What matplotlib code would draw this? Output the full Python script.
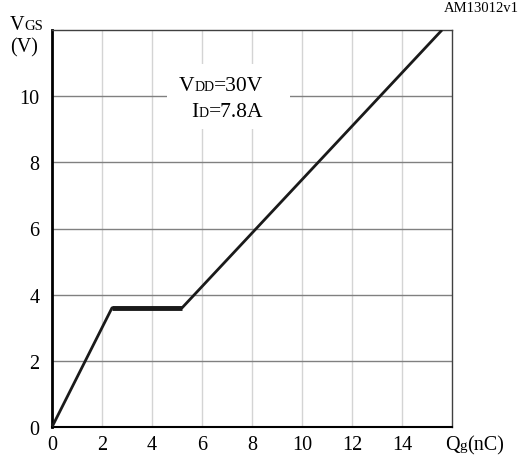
import matplotlib.pyplot as plt

plt.rcParams["font.family"] = ["Liberation Serif", "DejaVu Serif"]

# gate charge curve
qg = [0, 2.4, 5.2, 15.6]
vgs = [0, 3.6, 3.6, 12.0]
xticks = [0, 2, 4, 6, 8, 10, 12, 14]
yticks = [0, 2, 4, 6, 8, 10]

W, H = 521, 460
fig = plt.figure(figsize=(W / 100, H / 100), dpi=100)
ax = fig.add_axes([52 / W, 1 - 428 / H, 400 / W, 397 / H])
renderer = fig.canvas.get_renderer()


def mixed(x, y, parts, ha="left"):
    """Write text pieces of different sizes side by side on one baseline (pixel coords)."""
    texts = []
    cx = x
    for s, size in parts:
        t = fig.text(cx / W, 1 - y / H, s, fontsize=size, va="baseline", zorder=5)
        cx += t.get_window_extent(renderer).width
        texts.append(t)
    if ha == "center":
        shift = (cx - x) / 2
        for t in texts:
            px, py = t.get_position()
            t.set_position((px - shift / W, py))
    return texts


ax.set_xlim(0, 16)
ax.set_ylim(0, 12)
for x in range(2, 16, 2):
    ax.axvline(x, color="#d4d4d4", linewidth=1, zorder=0)
for y in range(2, 12, 2):
    ax.axhline(y, color="#808080", linewidth=1, zorder=0)

ax.plot(qg, vgs, color="#1a1a1a", linewidth=2, solid_capstyle="butt", zorder=3)
ax.plot(qg[1:3], vgs[1:3], color="#1a1a1a", linewidth=3.5, solid_capstyle="butt", zorder=3)

ax.set_xticks(xticks)
ax.set_yticks(yticks)
ax.tick_params(length=0, labelsize=14.5)
ax.tick_params(axis="x", pad=6)
ax.tick_params(axis="y", pad=9)

for side in ["top", "right"]:
    ax.spines[side].set_color("#404040")
    ax.spines[side].set_linewidth(1)
ax.spines["left"].set_linewidth(2)
ax.spines["bottom"].set_linewidth(1.5)

# white patch hiding the grid behind the test conditions
ax.add_patch(plt.Rectangle((4.6, 9.0), 4.92, 1.97, facecolor="white",
                           edgecolor="none", zorder=2))
mixed(221, 91, [("V", 15.5), ("DD", 10), ("=30V", 15.5)], ha="center")
mixed(227, 117, [("I", 15.5), ("D", 10), ("=7.8A", 15.5)], ha="center")

mixed(10, 30, [("V", 14.5), ("GS", 10.5)])
fig.text(10 / W, 1 - 52 / H, "(V)", fontsize=14.5, va="baseline")
mixed(445, 450, [("Q", 14.5), ("g", 11), ("(nC)", 14.5)])
fig.text(1 - 2 / W, 1 - 9 / H, "AM13012v1", fontsize=10.5, ha="right", va="center")

fig.savefig("out.png", dpi=100)
